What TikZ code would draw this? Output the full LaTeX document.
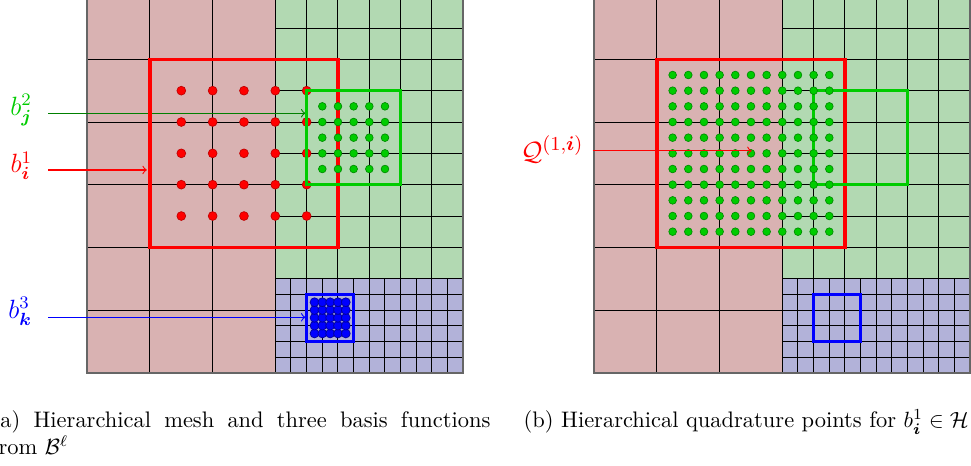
\documentclass[tikz,border=0pt]{standalone}
\usepackage{amsmath}
\usetikzlibrary{positioning}
\colorlet{onecol}{red}
\colorlet{twocol}{green!80!black}
\colorlet{threecol}{blue}
\tikzset{
    mesh line/.style   = {black, line width=0.45pt},
    mesh frame/.style  = {draw=black!60, line width=0.9pt},
    level one/.style   = {fill=red!50!black!30},
    level two/.style   = {fill=green!50!black!30},
    level three/.style = {fill=blue!50!black!30},
    support/.style     = {line width=1.6pt},
    pointer/.style     = {->, line width=0.5pt},
    qpoint/.style      = {line width=0.3pt},
    basis label/.style = {font=\large, anchor=east, inner xsep=7pt},
    caption text/.style = {inner sep=0pt, anchor=base west,
                           font=\fontsize{10.2}{12.2}\selectfont}
}
\def\panelshift{8.09}
\def\captionrow{-0.882}

\begin{document}
\begin{tikzpicture}

\useasboundingbox (-1.393,-1.473) rectangle (14.101,5.947);

% The same three-level mesh is drawn under both panels.
\foreach \sx in {0,\panelshift} {
\begin{scope}[xshift=\sx cm]
    \fill[level one] (0,0) rectangle (3,6);
    \fill[level two] (3,1.5) rectangle (6,6);
    \fill[level three] (3,0) rectangle (6,1.5);
    \draw[mesh line, step=1] (0,0) grid (3,6);
    \draw[mesh line, step=0.5] (3,1.5) grid (6,6);
    \draw[mesh line, step=0.25] (3,0) grid (6,1.5);
    \draw[mesh frame] (0,0) rectangle (6,6);
\end{scope}
}

% Left panel: one basis function of each level with its points.
\coordinate (jtip) at (3.48,4.14);
\coordinate (itip) at (0.95,3.235);
\coordinate (ktip) at (3.48,0.884);
\node[basis label, twocol] (bj) at (-0.627,4.19) {$b^2_{\boldsymbol{j}}$};
\node[basis label, onecol] (bi) at (-0.627,3.30) {$b^1_{\boldsymbol{i}}$};
\node[basis label, threecol] (bk) at (-0.627,0.98) {$b^3_{\boldsymbol{k}}$};
\draw[pointer, green!50!black] (bj.east |- jtip) -- (jtip);
\draw[pointer, onecol] (bi.east |- itip) -- (itip);
\draw[pointer, threecol] (bk.east |- ktip) -- (ktip);

\draw[support, onecol] (1,2) rectangle (4,5);
\foreach \i in {0,...,4}
    \foreach \j in {0,...,4}
        \filldraw[qpoint, fill=onecol, draw=red!75!black]
            (1.5+0.5*\i,2.5+0.5*\j) circle (2pt);
\draw[support, twocol] (3.5,3) rectangle (5,4.5);
\foreach \i in {0,...,4}
    \foreach \j in {0,...,4}
        \filldraw[qpoint, fill=twocol, draw=green!55!black]
            (3.75+0.25*\i,3.25+0.25*\j) circle (1.75pt);
\draw[support, threecol] (3.5,0.5) rectangle (4.25,1.25);
\foreach \i in {0,...,4}
    \foreach \j in {0,...,4}
        \filldraw[qpoint, fill=threecol, draw=blue!60!black]
            (3.625+0.125*\i,0.625+0.125*\j) circle (2pt);

% Right panel: quadrature points gathered for the level-one function.
\begin{scope}[xshift=\panelshift cm]
    \draw[support, onecol] (1,2) rectangle (4,5);
    \draw[support, twocol] (3.5,3) rectangle (5,4.5);
    \draw[support, threecol] (3.5,0.5) rectangle (4.25,1.25);
    \foreach \i in {0,...,10}
        \foreach \j in {0,...,10}
            \filldraw[qpoint, fill=twocol, draw=green!55!black]
                (1.25+0.25*\i,2.25+0.25*\j) circle (1.75pt);
    \coordinate (qtip) at (2.51,3.54);
    \node[basis label, onecol, font=\fontsize{13}{15}\selectfont,
        inner xsep=4pt] (qi)
        at (-0.025,3.56) {$\mathcal{Q}^{(1,\boldsymbol{i})}$};
    \draw[pointer, onecol] (qi.east |- qtip) -- (qtip);
\end{scope}

% Sub-figure captions, cut by the page edges.
\node[caption text, text width=226.4pt, align=justify] (capa)
    at (-1.532,\captionrow)
    {\noindent(a) Hierarchical mesh and three basis functions\linebreak
     from $\mathcal{B}^\ell$};
\node[caption text] (capb) at (6.957,\captionrow)
    {(b) Hierarchical quadrature points for
     $b^1_{\boldsymbol{i}} \in \mathcal{H}$};

\end{tikzpicture}
\end{document}
